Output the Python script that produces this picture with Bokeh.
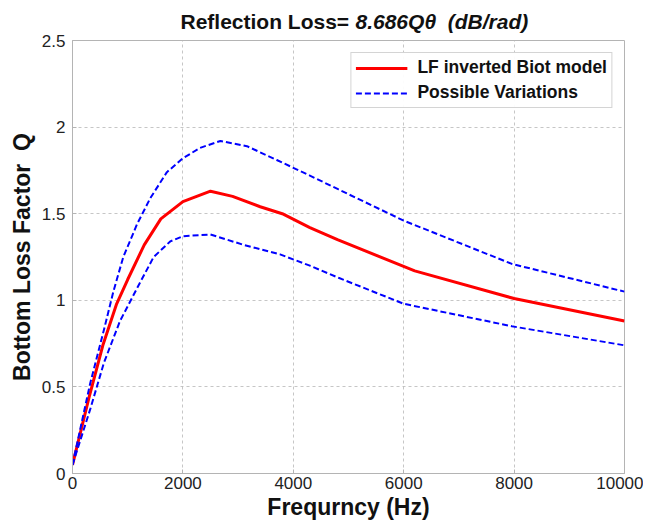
from bokeh.plotting import figure
from bokeh.models import Range1d, Legend, LegendItem, FixedTicker, Title
from bokeh.embed import file_html
from bokeh.resources import INLINE

# Data
f_model = [0, 300, 550, 800, 1000, 1300, 1600, 2000, 2500, 2900, 3400, 3800, 4300, 4800, 6200, 8000, 10000]
q_model = [0.05, 0.44, 0.74, 0.98, 1.12, 1.32, 1.47, 1.57, 1.63, 1.60, 1.54, 1.50, 1.42, 1.35, 1.17, 1.01, 0.88]

f_upper = [0, 320, 570, 740, 920, 1170, 1410, 1710, 2000, 2310, 2680, 3160, 3700, 4300, 4820, 6000, 7960, 10000]
q_upper = [0.05, 0.52, 0.83, 1.05, 1.25, 1.44, 1.59, 1.74, 1.82, 1.88, 1.92, 1.89, 1.81, 1.72, 1.64, 1.46, 1.21, 1.05]

f_lower = [0, 320, 570, 860, 1170, 1470, 1770, 2000, 2500, 3100, 3760, 4300, 4820, 6000, 7960, 10000]
q_lower = [0.05, 0.37, 0.64, 0.88, 1.07, 1.25, 1.34, 1.37, 1.38, 1.32, 1.265, 1.20, 1.13, 0.98, 0.85, 0.74]

x_ticks = [0, 2000, 4000, 6000, 8000, 10000]
y_ticks = [0, 0.5, 1, 1.5, 2, 2.5]
y_tick_labels = {0: "0", 0.5: "0.5", 1: "1", 1.5: "1.5", 2: "2", 2.5: "2.5"}

title_left = "Reflection Loss="
title_right = "8.686Q\u03b8 \u00a0(dB/rad)"
x_label = "Frequrncy (Hz)"
y_label = "Bottom Loss Factor \u00a0Q"
legend_labels = ["LF inverted Biot model", "Possible Variations"]

FONT = "Liberation Sans"
TITLE_SIZE = 21

p = figure(width=643, height=522, output_backend="svg", toolbar_location=None,
           x_range=Range1d(0, 10000), y_range=Range1d(0, 2.5),
           min_border_left=72, min_border_right=19, min_border_top=40, min_border_bottom=44)

p.background_fill_color = "white"
p.border_fill_color = "white"
p.outline_line_color = "#b4b4b4"

r_model = p.line(f_model, q_model, line_color="#ff0000", line_width=3)
r_up = p.line(f_upper, q_upper, line_color="#0000ff", line_width=2, line_dash="6 3")
r_lo = p.line(f_lower, q_lower, line_color="#0000ff", line_width=2, line_dash="6 3")

# axes
p.xaxis.ticker = FixedTicker(ticks=x_ticks)
p.yaxis.ticker = FixedTicker(ticks=y_ticks)
p.yaxis.major_label_overrides = y_tick_labels
for ax in (p.xaxis, p.yaxis):
    ax.axis_line_color = "#b4b4b4"
    ax.major_tick_line_color = "#b4b4b4"
    ax.major_tick_in = 4
    ax.major_tick_out = 0
    ax.minor_tick_line_color = None
    ax.major_label_text_font = FONT
    ax.major_label_text_font_size = "17px"
    ax.major_label_text_color = "#222222"
    ax.axis_label_text_font = FONT
    ax.axis_label_text_font_size = "23px"
    ax.axis_label_text_font_style = "bold"
    ax.axis_label_text_color = "#111111"

p.xaxis.axis_label = x_label
p.yaxis.axis_label = y_label
p.xaxis.major_label_standoff = 3
p.xaxis.axis_label_standoff = 2
p.yaxis.major_label_standoff = 7
p.yaxis.axis_label_standoff = 4

# grid
for g in (p.xgrid, p.ygrid):
    g.grid_line_color = "#b8b8b8"
    g.grid_line_dash = "3 3"
    g.grid_line_alpha = 0.8

# title: bold part (outer title, pulled down into the same row) + bold italic part
p.title.text = title_left
p.title.align = "left"
p.title.offset = 108
p.title.text_font = FONT
p.title.text_font_size = f"{TITLE_SIZE}px"
p.title.text_font_style = "bold"
p.title.text_color = "#111111"
p.title.standoff = -65

t2 = Title(text=title_right, align="left", offset=283, standoff=15,
           text_font=FONT, text_font_size=f"{TITLE_SIZE}px", text_font_style="bold italic",
           text_color="#111111")
p.add_layout(t2, "above")

legend = Legend(items=[LegendItem(label=legend_labels[0], renderers=[r_model]),
                       LegendItem(label=legend_labels[1], renderers=[r_up])],
                location="top_right")
legend.margin = 12
legend.padding = 4
legend.spacing = 4
legend.glyph_width = 52
legend.glyph_height = 20
legend.label_standoff = 10
legend.label_text_font = FONT
legend.label_text_font_size = "17.5px"
legend.label_text_font_style = "bold"
legend.label_text_color = "#111111"
legend.border_line_color = "#aaaaaa"
legend.background_fill_color = "white"
p.add_layout(legend)

open("out.html", "w").write(file_html(p, INLINE))
